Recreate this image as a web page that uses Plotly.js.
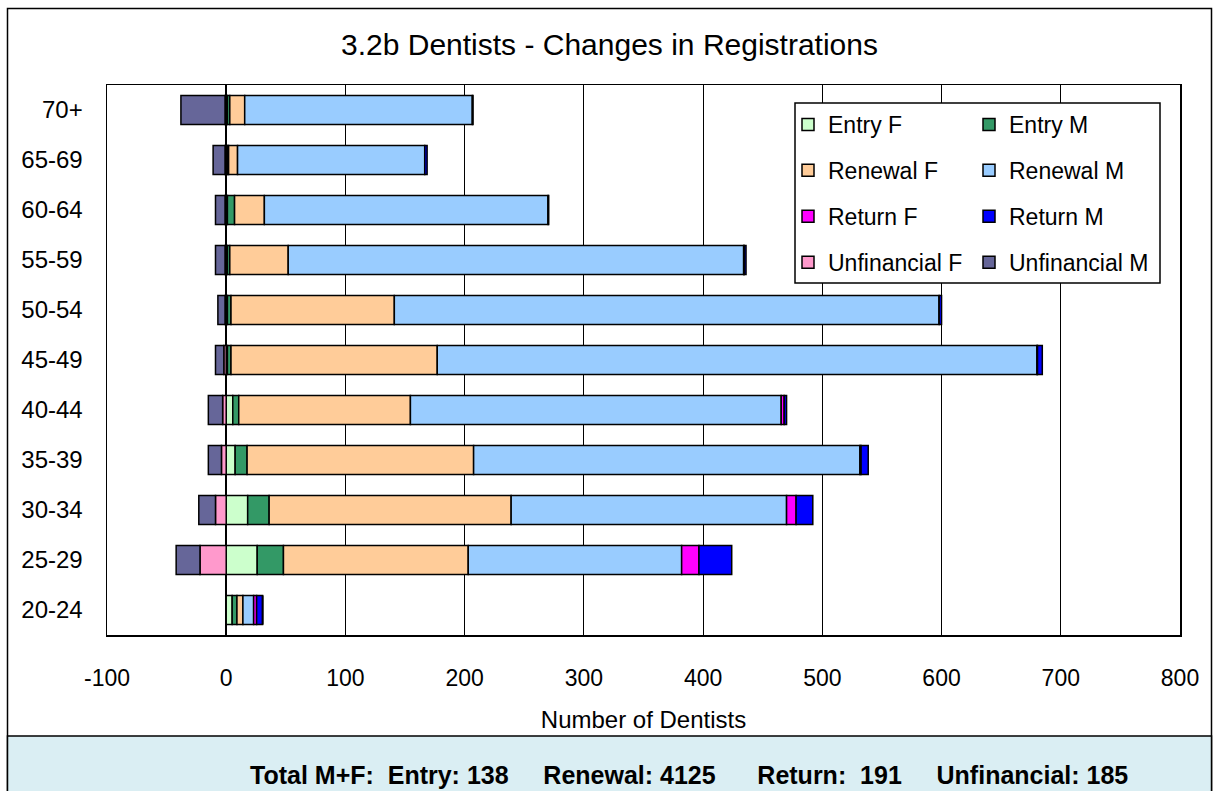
<!DOCTYPE html>
<html>
<head>
<meta charset="utf-8">
<script src="https://cdn.plot.ly/plotly-3.0.1.min.js"></script>
<style>html,body{margin:0;padding:0;background:#fff;}</style>
</head>
<body>
<div id="chart" style="width:1219px;height:791px;"></div>
<script>
// ---- data ----
var ages = ['20-24','25-29','30-34','35-39','40-44','45-49','50-54','55-59','60-64','65-69','70+'];
var entryF    = [5, 26, 18, 7.5, 5.5, 1, 1, 1, 1, 1, 1];
var entryM    = [4, 22, 18, 10, 5, 3, 3, 2, 6, 1, 2];
var renewalF  = [5, 155, 203, 190, 144, 173, 137, 49, 25, 7.5, 12.5];
var renewalM  = [9, 179, 231, 324, 311, 503, 457, 382, 238, 157, 191];
var returnF   = [2.5, 14.5, 8, 1, 2.5, 0.5, 0, 0.5, 0, 0, 0];
var returnM   = [5, 27.5, 14, 6, 2, 4, 2, 1.5, 0.5, 2, 0.5];
var unfinF    = [0, -22, -9, -4, -3, -2, -1, -1, -1, -1, -1];
var unfinM    = [0, -20, -14, -11, -12, -7, -6, -8, -8, -10, -37];
var xTicks    = [-100, 0, 100, 200, 300, 400, 500, 600, 700, 800];
var totalLabels = ['Entry', 'Renewal', 'Return', 'Unfinancial'];
var totalValues = [138, 4125, 191, 185];

// ---- layout helpers (pixel -> paper) ----
var W = 1219, H = 791;
var L = 107, T = 85, PW = 1073, PH = 550;
function px(x){ return (x - L) / PW; }
function py(y){ return (T + PH - y) / PH; }
var FONT = 'Liberation Sans, Arial, sans-serif';

function bar(name, vals, color, legend){
  return {
    type: 'bar', orientation: 'h', name: name, y: ages, x: vals,
    marker: {color: color, line: {color: '#000', width: 1.5}},
    legend: legend, legendgroup: name, hoverinfo: 'x+y+name'
  };
}
var traces = [
  bar('Entry F', entryF, '#CCFFCC', 'legend'),
  bar('Entry M', entryM, '#339966', 'legend2'),
  bar('Renewal F', renewalF, '#FFCC99', 'legend'),
  bar('Renewal M', renewalM, '#99CCFF', 'legend2'),
  bar('Return F', returnF, '#FF00FF', 'legend'),
  bar('Return M', returnM, '#0000FF', 'legend2'),
  bar('Unfinancial F', unfinF, '#FF99CC', 'legend'),
  bar('Unfinancial M', unfinM, '#666699', 'legend2')
];

var sp = '\u00A0';
function gap(n){ var s = ''; for (var i = 0; i < n; i++) s += sp; return s; }
var totalText = 'Total M+F:' + gap(2) + totalLabels[0] + ': ' + totalValues[0] + gap(5) +
  totalLabels[1] + ': ' + totalValues[1] + gap(6) +
  totalLabels[2] + ':' + gap(2) + totalValues[2] + gap(5) +
  totalLabels[3] + ': ' + totalValues[3];

var legendCommon = {
  orientation: 'v', bgcolor: 'rgba(0,0,0,0)', borderwidth: 0,
  font: {family: FONT, size: 23, color: '#000'},
  tracegroupgap: 13, xanchor: 'left', yanchor: 'top', traceorder: 'grouped'
};

var layout = {
  width: W, height: H,
  paper_bgcolor: '#fff', plot_bgcolor: '#fff',
  margin: {l: L, r: W - L - PW, t: T, b: H - T - PH, pad: 0},
  barmode: 'relative', bargap: 0.42,
  font: {family: FONT, color: '#000'},
  title: {text: '3.2b Dentists - Changes in Registrations', x: 0.5, xanchor: 'center',
          y: 1 - 44 / H, yanchor: 'middle', font: {family: FONT, size: 30, color: '#000'}},
  xaxis: {
    range: [-100, 800], tickvals: xTicks, ticktext: xTicks.map(String),
    showgrid: true, gridcolor: '#000', gridwidth: 1,
    zeroline: true, zerolinecolor: '#000', zerolinewidth: 2.5,
    showline: true, linecolor: '#000', linewidth: 1.5, mirror: true,
    ticks: '', ticklabelstandoff: 22,
    tickfont: {family: FONT, size: 23, color: '#000'},
    title: {text: 'Number of Dentists', standoff: 21, font: {family: FONT, size: 24, color: '#000'}},
    fixedrange: true
  },
  yaxis: {
    type: 'category', categoryorder: 'array', categoryarray: ages,
    showgrid: false, zeroline: false,
    showline: true, linecolor: '#000', linewidth: 1.5, mirror: true,
    ticks: '', ticklabelstandoff: 18,
    tickfont: {family: FONT, size: 24, color: '#000'},
    fixedrange: true
  },
  legend: Object.assign({x: px(788), y: py(103)}, legendCommon),
  legend2: Object.assign({x: px(969), y: py(103)}, legendCommon),
  shapes: [
    // outer chart frame
    {type: 'rect', xref: 'paper', yref: 'paper', x0: px(7.5), x1: px(1211.5), y0: py(800), y1: py(8.5),
     line: {color: '#000', width: 1.5}, fillcolor: 'rgba(0,0,0,0)', layer: 'below'},
    // totals band
    {type: 'rect', xref: 'paper', yref: 'paper', x0: px(7.5), x1: px(1211.5), y0: py(800), y1: py(736),
     line: {color: '#000', width: 1.5}, fillcolor: '#DAEEF3', layer: 'below'},
    // legend box
    {type: 'rect', xref: 'paper', yref: 'paper', x0: px(795), x1: px(1160), y0: py(283), y1: py(103),
     line: {color: '#000', width: 1.5}, fillcolor: '#fff', layer: 'above'}
  ],
  annotations: [
    {xref: 'paper', yref: 'paper', x: px(689), y: py(775), xanchor: 'center', yanchor: 'middle',
     showarrow: false, text: '<b>' + totalText + '</b>', font: {family: FONT, size: 25, color: '#000'}}
  ]
};

Plotly.newPlot('chart', traces, layout, {displayModeBar: false, staticPlot: true});
</script>
</body>
</html>
